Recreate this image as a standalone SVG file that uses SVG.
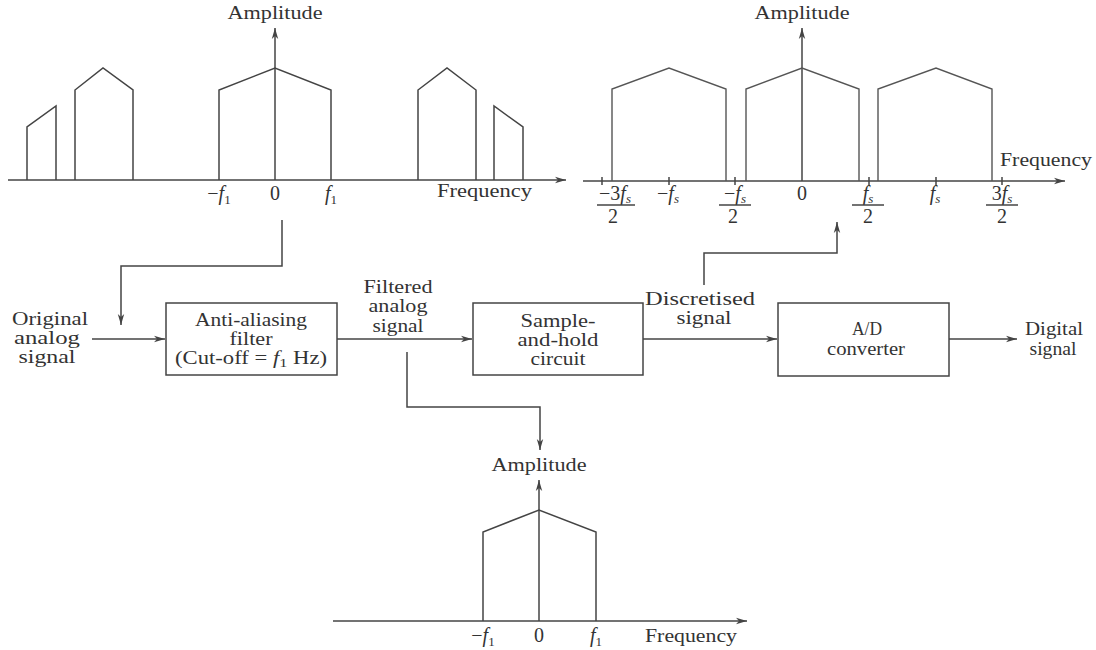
<svg xmlns="http://www.w3.org/2000/svg" width="1096" height="650" viewBox="0 0 1096 650">
<defs>
<marker id="arr" markerWidth="12" markerHeight="8" refX="11" refY="4" orient="auto" markerUnits="userSpaceOnUse">
<path d="M0,0.8 L11,4 L0,7.2 L3,4 Z" fill="#444"/>
</marker>
<style>
.ln{fill:none;stroke:#444;stroke-width:1.5}
.lt{fill:none;stroke:#555;stroke-width:1.4}
.bx{fill:#fff;stroke:#444;stroke-width:1.5}
text{font-family:"Liberation Serif","Times New Roman",serif;font-size:18px;fill:#333}
.c{text-anchor:middle}
.i{font-style:italic}
.sub{font-size:13px}
.tk{font-size:20px}
</style>
</defs>
<rect width="1096" height="650" fill="#fff"/>

<g id="spectrum-original">
<line class="ln" x1="8" y1="180" x2="566" y2="180" marker-end="url(#arr)"/>
<line class="ln" x1="275" y1="180" x2="275" y2="28" marker-end="url(#arr)"/>
<text class="c" x="275" y="19" textLength="95" lengthAdjust="spacingAndGlyphs">Amplitude</text>
<polyline class="ln" points="27,180 27,127 56,106 56,180"/>
<polyline class="ln" points="75,180 75,90 103,68 133,90 133,180"/>
<polyline class="ln" points="219,180 219,90 275,68 331,90 331,180"/>
<polyline class="ln" points="418,180 418,90 447,68 476,90 476,180"/>
<polyline class="ln" points="494,180 494,106 523,127 523,180"/>
<text class="c tk" x="219" y="200">−<tspan class="i">f</tspan><tspan class="sub" dy="4">1</tspan></text>
<text class="c tk" x="275" y="200">0</text>
<text class="c tk" x="331" y="200"><tspan class="i">f</tspan><tspan class="sub" dy="4">1</tspan></text>
<text x="437" y="197" textLength="95" lengthAdjust="spacingAndGlyphs">Frequency</text>
</g>

<g id="spectrum-sampled">
<line class="ln" x1="583" y1="181" x2="1065" y2="181" marker-end="url(#arr)"/>
<line class="ln" x1="802" y1="181" x2="802" y2="28" marker-end="url(#arr)"/>
<text class="c" x="802" y="19" textLength="95" lengthAdjust="spacingAndGlyphs">Amplitude</text>
<g class="ln">
<line x1="602" y1="177" x2="602" y2="185"/>
<line x1="669" y1="177" x2="669" y2="185"/>
<line x1="735" y1="177" x2="735" y2="185"/>
<line x1="869" y1="177" x2="869" y2="185"/>
<line x1="936" y1="177" x2="936" y2="185"/>
<line x1="1002" y1="177" x2="1002" y2="185"/>
</g>
<polyline class="lt" points="612,181 612,89 669,68 726,89 726,181"/>
<polyline class="lt" points="746,181 746,89 802,68 859,89 859,181"/>
<polyline class="lt" points="878,181 878,89 936,68 992,89 992,181"/>
<text x="1000" y="166" textLength="92" lengthAdjust="spacingAndGlyphs">Frequency</text>
<text class="c tk" x="615" y="200">−3<tspan class="i">f</tspan><tspan class="sub i" dy="3">s</tspan></text>
<line class="ln" x1="597" y1="205" x2="635" y2="205"/>
<text class="c tk" x="613" y="223">2</text>
<text class="c tk" x="668" y="200">−<tspan class="i">f</tspan><tspan class="sub i" dy="3">s</tspan></text>
<text class="c tk" x="735" y="200">−<tspan class="i">f</tspan><tspan class="sub i" dy="3">s</tspan></text>
<line class="ln" x1="719" y1="205" x2="751" y2="205"/>
<text class="c tk" x="733" y="223">2</text>
<text class="c tk" x="802" y="200">0</text>
<text class="c tk" x="868" y="200"><tspan class="i">f</tspan><tspan class="sub i" dy="3">s</tspan></text>
<line class="ln" x1="852" y1="205" x2="884" y2="205"/>
<text class="c tk" x="868" y="223">2</text>
<text class="c tk" x="935" y="200"><tspan class="i">f</tspan><tspan class="sub i" dy="3">s</tspan></text>
<text class="c tk" x="1002" y="200">3<tspan class="i">f</tspan><tspan class="sub i" dy="3">s</tspan></text>
<line class="ln" x1="986" y1="205" x2="1018" y2="205"/>
<text class="c tk" x="1002" y="223">2</text>
</g>

<g id="spectrum-filtered">
<line class="ln" x1="333" y1="621" x2="747" y2="621" marker-end="url(#arr)"/>
<line class="ln" x1="539" y1="621" x2="539" y2="480" marker-end="url(#arr)"/>
<text class="c" x="539" y="471" textLength="95" lengthAdjust="spacingAndGlyphs">Amplitude</text>
<polyline class="ln" points="483,621 483,532 539,510 596,532 596,621"/>
<text class="c tk" x="483" y="642">−<tspan class="i">f</tspan><tspan class="sub" dy="4">1</tspan></text>
<text class="c tk" x="539" y="642">0</text>
<text class="c tk" x="596" y="642"><tspan class="i">f</tspan><tspan class="sub" dy="4">1</tspan></text>
<text x="645" y="642" textLength="92" lengthAdjust="spacingAndGlyphs">Frequency</text>
</g>

<g id="connectors">
<polyline class="ln" points="282,220 282,266 121,266 121,325" marker-end="url(#arr)"/>
<line class="ln" x1="92" y1="339" x2="165" y2="339" marker-end="url(#arr)"/>
<line class="ln" x1="337" y1="339" x2="472" y2="339" marker-end="url(#arr)"/>
<polyline class="ln" points="407,352 407,407 540,407 540,450" marker-end="url(#arr)"/>
<line class="ln" x1="643" y1="339" x2="777" y2="339" marker-end="url(#arr)"/>
<polyline class="ln" points="704,285 704,253 837,253 837,222" marker-end="url(#arr)"/>
<line class="ln" x1="949" y1="339" x2="1017" y2="339" marker-end="url(#arr)"/>
</g>

<g id="label-original">
<text class="c" x="50" y="325" textLength="76" lengthAdjust="spacingAndGlyphs">Original</text>
<text class="c" x="47" y="344" textLength="66" lengthAdjust="spacingAndGlyphs">analog</text>
<text class="c" x="47" y="363" textLength="57" lengthAdjust="spacingAndGlyphs">signal</text>
</g>

<g id="anti-aliasing-filter">
<rect class="bx" x="166" y="303" width="171" height="72"/>
<text class="c" x="251" y="326" textLength="112" lengthAdjust="spacingAndGlyphs">Anti-aliasing</text>
<text class="c" x="251" y="345" textLength="43" lengthAdjust="spacingAndGlyphs">filter</text>
<text class="c" x="251" y="364" textLength="152" lengthAdjust="spacingAndGlyphs">(Cut-off = <tspan class="i">f</tspan><tspan class="sub" dy="3">1</tspan><tspan dy="-3"> Hz)</tspan></text>
</g>

<g id="label-filtered">
<text class="c" x="398" y="293" textLength="69" lengthAdjust="spacingAndGlyphs">Filtered</text>
<text class="c" x="398" y="312" textLength="59" lengthAdjust="spacingAndGlyphs">analog</text>
<text class="c" x="398" y="332" textLength="51" lengthAdjust="spacingAndGlyphs">signal</text>
</g>

<g id="sample-and-hold">
<rect class="bx" x="473" y="303" width="170" height="72"/>
<text class="c" x="558" y="327" textLength="75" lengthAdjust="spacingAndGlyphs">Sample-</text>
<text class="c" x="558" y="346" textLength="81" lengthAdjust="spacingAndGlyphs">and-hold</text>
<text class="c" x="558" y="365" textLength="55" lengthAdjust="spacingAndGlyphs">circuit</text>
</g>

<g id="label-discretised">
<text class="c" x="700" y="305" textLength="110" lengthAdjust="spacingAndGlyphs">Discretised</text>
<text class="c" x="704" y="324" textLength="55" lengthAdjust="spacingAndGlyphs">signal</text>
</g>

<g id="ad-converter">
<rect class="bx" x="778" y="303" width="171" height="73"/>
<text class="c" x="867" y="335" textLength="30" lengthAdjust="spacingAndGlyphs">A/D</text>
<text class="c" x="866" y="355" textLength="78" lengthAdjust="spacingAndGlyphs">converter</text>
</g>

<g id="label-digital">
<text class="c" x="1054" y="335" textLength="58" lengthAdjust="spacingAndGlyphs">Digital</text>
<text class="c" x="1053" y="355" textLength="47" lengthAdjust="spacingAndGlyphs">signal</text>
</g>
</svg>
